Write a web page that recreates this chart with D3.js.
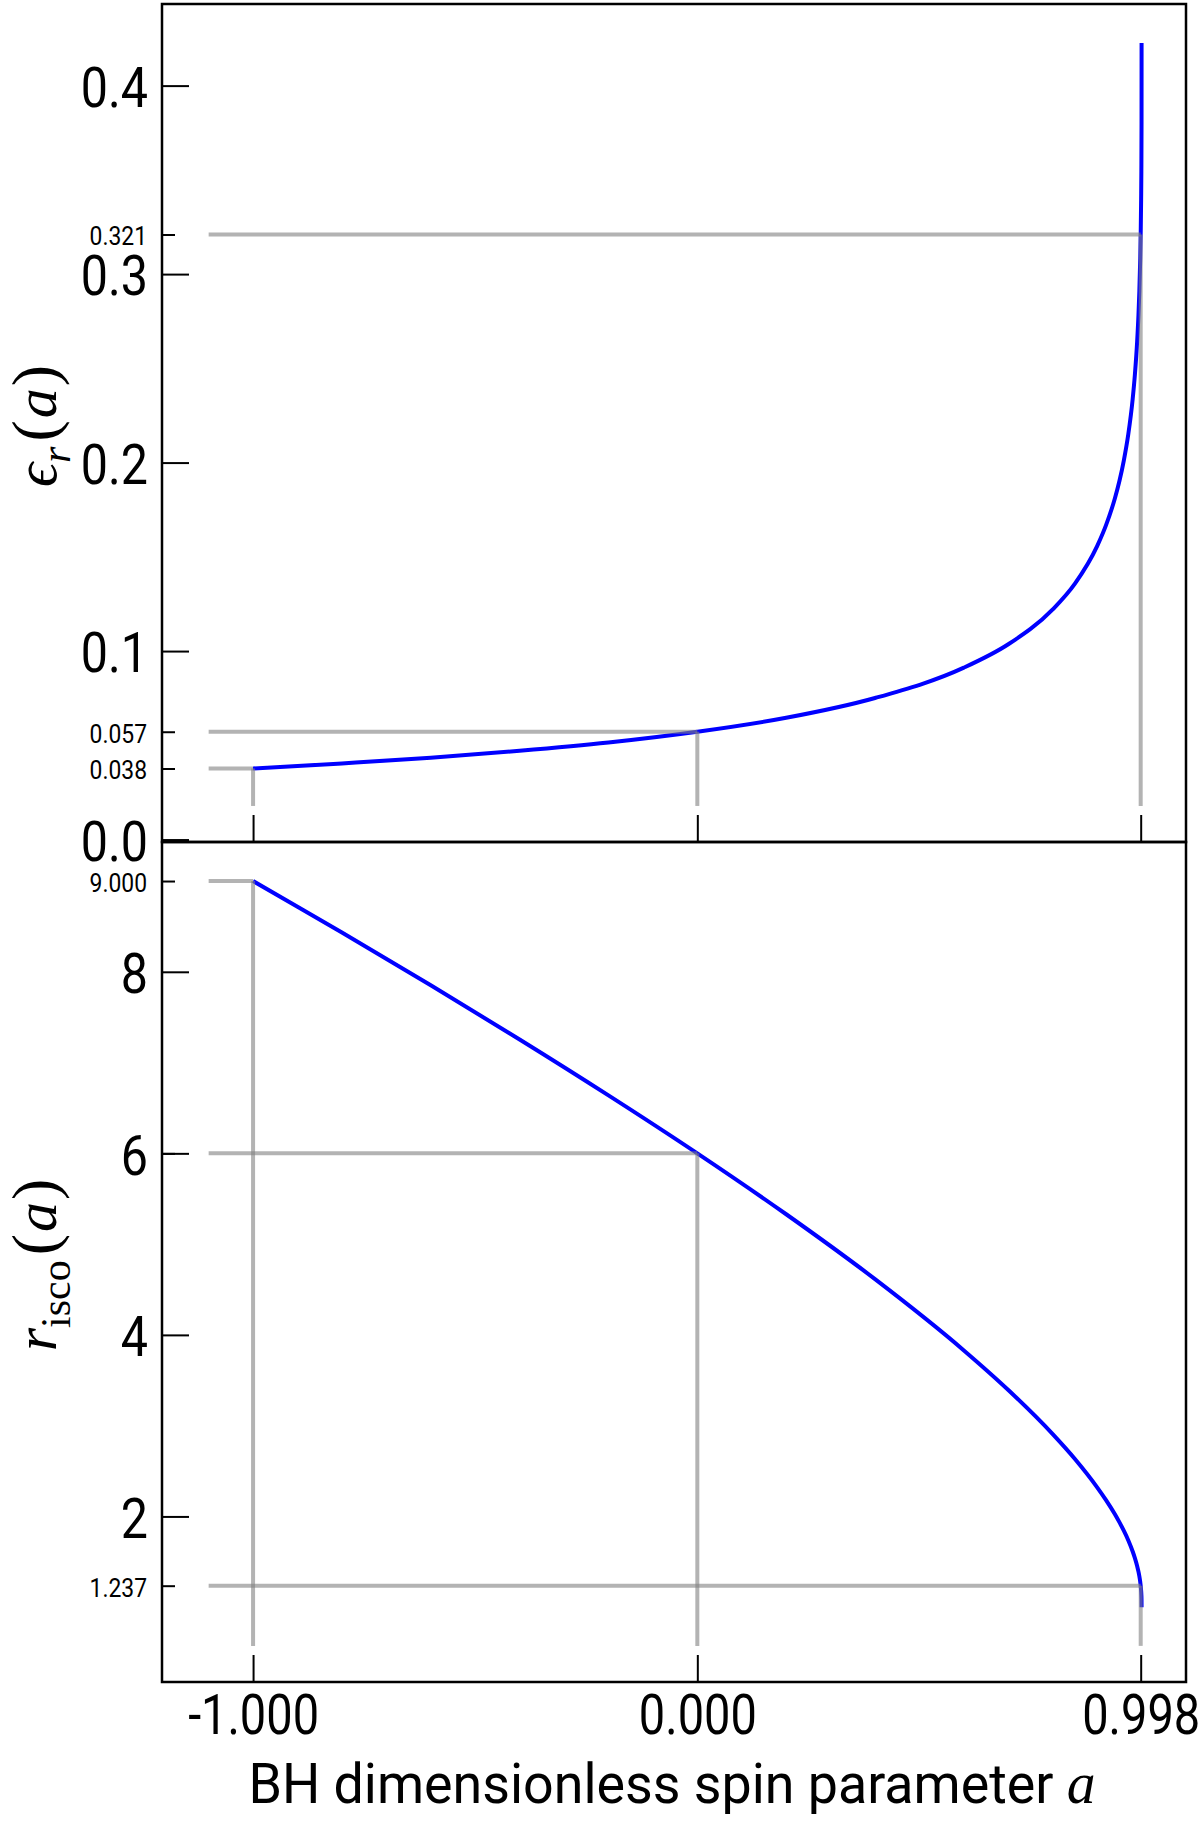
<!DOCTYPE html>
<html lang="en">
<head>
  <meta charset="UTF-8">
  <title>ISCO radius and efficiency</title>
  <script src="https://d3js.org/d3.v7.min.js"></script>
  <style>
    body { margin: 0; background: #fff; }
    text { font-family: Roboto, "DejaVu Sans", sans-serif; fill: #000; }
    .math { font-family: "Liberation Serif", "DejaVu Serif", serif; }
  </style>
</head>
<body>
  <svg width="1200" height="1822" id="fig"></svg>

  <script>
    // curve samples
    const spin = [-1, -0.9, -0.8, -0.6, -0.4, -0.2, 0, 0.2, 0.4, 0.6, 0.7, 0.8, 0.85, 0.9, 0.92, 0.94,
      0.95, 0.96, 0.97, 0.98, 0.985, 0.99, 0.993, 0.995, 0.997, 0.998, 0.999, 0.9995, 0.9999, 1];
    const rIsco = [9, 8.717, 8.432, 7.851, 7.255, 6.639, 6, 5.329, 4.614, 3.829, 3.393, 2.907, 2.633, 2.321, 2.180, 2.024,
      1.937, 1.843, 1.738, 1.614, 1.541, 1.455, 1.391, 1.341, 1.278, 1.237, 1.182, 1.143, 1.084, 1];
    const eff = [0.0377, 0.0390, 0.0404, 0.0434, 0.0471, 0.0515, 0.0572, 0.0646, 0.0751, 0.0912, 0.1036, 0.1221, 0.1358, 0.1557, 0.1668, 0.1811,
      0.1901, 0.2011, 0.2149, 0.2338, 0.2468, 0.2640, 0.2783, 0.2909, 0.3084, 0.3210, 0.3397, 0.3544, 0.3795, 0.4226];

    // marked spins and their values
    const markSpin = [-1, 0, 0.998];
    const markSpinLabels = ['-1.000', '0.000', '0.998'];
    const markEff = [0.0377, 0.0572, 0.321];
    const markEffLabels = ['0.038', '0.057', '0.321'];
    const markR = [9, 6, 1.237];
    const markRLabels = ['9.000', '', '1.237'];

    const effTicks = [0, 0.1, 0.2, 0.3, 0.4];
    const rTicks = [2, 4, 6, 8];

    const sx = 0.88;   // squeeze of the tick digits
    const sxl = 0.96;  // squeeze of the x title
    const svg = d3.select('#fig');
    const left = 162, right = 1186, yTop = 4, yMid = 842, yBot = 1682;

    const x = d3.scaleLinear().domain([-1.205, 1.1]).range([left, right]);
    const yE = d3.scaleLinear().domain([-0.0013, 0.4433]).range([yMid, yTop]);
    const yR = d3.scaleLinear().domain([0.176, 9.43]).range([yBot, yMid]);

    function squeeze(sel, pad, dy) {
      sel.selectAll('.tick text')
        .attr('x', -pad / sx)
        .attr('dy', dy)
        .attr('transform', `scale(${sx},1)`);
    }

    function panel(y, vals, marks, majors, fmt, markLabels) {
      const line = d3.line().x(d => x(d[0])).y(d => y(d[1])).curve(d3.curveMonotoneX);
      svg.append('path')
        .datum(spin.map((s, i) => [s, vals[i]]))
        .attr('d', line)
        .attr('fill', 'none')
        .attr('stroke', '#0000ff')
        .attr('stroke-width', 4);

      const d = y.domain();
      const vEnd = d[0] + 0.043 * (d[1] - d[0]);
      markSpin.forEach((s, i) => {
        svg.append('line')
          .attr('x1', x(-1.1)).attr('x2', x(s))
          .attr('y1', y(marks[i])).attr('y2', y(marks[i]))
          .attr('stroke', '#808080').attr('stroke-opacity', 0.6).attr('stroke-width', 4);
        svg.append('line')
          .attr('x1', x(s)).attr('x2', x(s))
          .attr('y1', y(marks[i])).attr('y2', y(vEnd))
          .attr('stroke', '#808080').attr('stroke-opacity', 0.6).attr('stroke-width', 4);
      });

      const ga = svg.append('g').attr('transform', `translate(${left},0)`)
        .call(d3.axisLeft(y).tickValues(majors).tickSizeInner(-27).tickSizeOuter(0)
          .tickPadding(14).tickFormat(fmt));
      ga.select('.domain').remove();
      ga.selectAll('.tick line').attr('stroke', '#000').attr('stroke-width', 2);
      ga.selectAll('.tick text').attr('font-size', 55).attr('font-family', null);
      squeeze(ga, 14, '0.38em');

      const gm = svg.append('g').attr('transform', `translate(${left},0)`)
        .call(d3.axisLeft(y).tickValues(marks).tickSizeInner(-13).tickSizeOuter(0)
          .tickPadding(15).tickFormat((v, i) => markLabels[i]));
      gm.select('.domain').remove();
      gm.selectAll('.tick line').attr('stroke', '#000').attr('stroke-width', 2);
      gm.selectAll('.tick text').attr('font-size', 26).attr('font-family', null);
      squeeze(gm, 15, '0.4em');
    }

    panel(yE, eff, markEff, effTicks, d3.format('.1f'), markEffLabels);
    panel(yR, rIsco, markR, rTicks, d3.format('d'), markRLabels);

    // x ticks: bare on the upper panel, labelled on the lower one
    const gxTop = svg.append('g').attr('transform', `translate(0,${yMid})`)
      .call(d3.axisBottom(x).tickValues(markSpin).tickSizeInner(-27).tickSizeOuter(0).tickFormat(''));
    gxTop.select('.domain').remove();
    gxTop.selectAll('.tick line').attr('stroke', '#000').attr('stroke-width', 2);

    const gx = svg.append('g').attr('transform', `translate(0,${yBot})`)
      .call(d3.axisBottom(x).tickValues(markSpin).tickSizeInner(-27).tickSizeOuter(0)
        .tickPadding(13).tickFormat((v, i) => markSpinLabels[i]));
    gx.select('.domain').remove();
    gx.selectAll('.tick line').attr('stroke', '#000').attr('stroke-width', 2);
    gx.selectAll('.tick text').attr('font-size', 55).attr('font-family', null)
      .attr('transform', `scale(${sx * 0.97},1)`);

    // frames
    [[yTop, yMid], [yMid, yBot]].forEach(([a, b]) => {
      svg.append('rect')
        .attr('x', left).attr('y', a).attr('width', right - left).attr('height', b - a)
        .attr('fill', 'none').attr('stroke', '#000').attr('stroke-width', 2.5);
    });

    // axis titles
    const xl = svg.append('text')
      .attr('transform', `translate(${(left + right) / 2 - 2},1803) scale(${sxl},1)`)
      .attr('text-anchor', 'middle')
      .attr('font-size', 56);
    xl.append('tspan').text('BH dimensionless spin parameter ');
    xl.append('tspan').attr('class', 'math').attr('font-style', 'italic').attr('font-size', 60).text('a');

    function ylab(cy, main, sub, subItalic) {
      const t = svg.append('text')
        .attr('class', 'math')
        .attr('transform', `translate(56,${cy}) rotate(-90)`)
        .attr('text-anchor', 'middle')
        .attr('font-size', 60);
      t.append('tspan').attr('font-style', 'italic').text(main);
      t.append('tspan').attr('font-size', 42).attr('dy', 14)
        .attr('font-style', subItalic ? 'italic' : 'normal').text(sub);
      t.append('tspan').attr('dy', -14).attr('dx', 5).attr('font-size', 64).text('(');
      t.append('tspan').attr('font-style', 'italic').attr('dx', 2).text('a');
      t.append('tspan').attr('font-size', 64).attr('dx', 2).text(')');
    }
    ylab((yTop + yMid) / 2 + 3, 'ϵ', 'r', true);
    ylab((yMid + yBot) / 2 + 3, 'r', 'isco', false);
  </script>
</body>
</html>
